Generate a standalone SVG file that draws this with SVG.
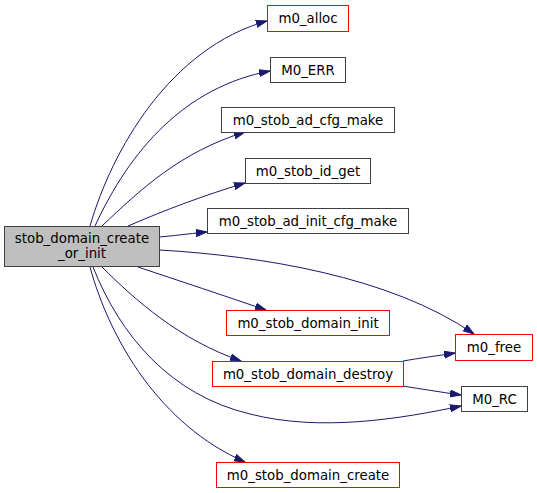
<svg xmlns="http://www.w3.org/2000/svg" width="537" height="493" viewBox="0 0 537 493">
<style>
text{font-family:"DejaVu Sans","Liberation Sans",sans-serif;font-size:13.33px;text-anchor:middle;fill:#000}
.n{fill:#fff;stroke:#404040;stroke-width:1}
.r{fill:#fff;stroke:#ff0000;stroke-width:1}
.m{fill:#bfbfbf;stroke:#404040;stroke-width:1}
.e{fill:none;stroke:#191970;stroke-width:1;marker-end:url(#ah)}
</style>
<defs>
<marker id="ah" markerUnits="userSpaceOnUse" markerWidth="12" markerHeight="10" refX="11" refY="4" orient="auto">
<polygon points="0,0.5 11,4 0,7.5" fill="#191970" stroke="#191970"/>
</marker>
</defs>
<rect width="537" height="493" fill="#fff"/>
<g id="edges">
<path class="e" d="M90,226 C112,150 170,48 267,21"/>
<path class="e" d="M95,226 C130,150 185,87 270,71"/>
<path class="e" d="M102,226 C140,190 180,152 245,132"/>
<path class="e" d="M128,226 C165,210 205,195 245,183"/>
<path class="e" d="M159,237 C172,236 186,234 207,232"/>
<path class="e" d="M160,250 C260,256 390,276 474,334"/>
<path class="e" d="M138,267 C180,281 225,296 266,310"/>
<path class="e" d="M102,267 C135,300 180,340 241,361"/>
<path class="e" d="M93,267 C120,335 170,395 250,414 C320,432 400,419 461,406"/>
<path class="e" d="M90,267 C110,340 160,425 245,462"/>
<path class="e" d="M403,361 C420,358 436,356 455,353"/>
<path class="e" d="M402,386 C422,389 440,392 461,395"/>
</g>
<g id="stob_domain_create_or_init">
<rect class="m" x="4.5" y="226.5" width="155" height="40"/>
<text x="82" y="243">stob_domain_create</text>
<text x="82" y="258">_or_init</text>
</g>
<g id="m0_alloc">
<rect class="r" x="267.5" y="5.5" width="81" height="26"/>
<text x="308" y="23">m0_alloc</text>
</g>
<g id="M0_ERR">
<rect class="n" x="270.5" y="57.5" width="75" height="25"/>
<text x="308" y="74.5">M0_ERR</text>
</g>
<g id="m0_stob_ad_cfg_make">
<rect class="n" x="221.5" y="107.5" width="173" height="25"/>
<text x="308" y="124.5">m0_stob_ad_cfg_make</text>
</g>
<g id="m0_stob_id_get">
<rect class="n" x="245.5" y="158.5" width="125" height="25"/>
<text x="308" y="175.5">m0_stob_id_get</text>
</g>
<g id="m0_stob_ad_init_cfg_make">
<rect class="n" x="207.5" y="208.5" width="201" height="25"/>
<text x="308" y="225.5">m0_stob_ad_init_cfg_make</text>
</g>
<g id="m0_stob_domain_init">
<rect class="r" x="226.5" y="310.5" width="163" height="25"/>
<text x="308" y="327.5">m0_stob_domain_init</text>
</g>
<g id="m0_free">
<rect class="r" x="455.5" y="334.5" width="77" height="26"/>
<text x="494" y="352">m0_free</text>
</g>
<g id="m0_stob_domain_destroy">
<rect class="r" x="212.5" y="361.5" width="191" height="25"/>
<text x="308" y="378.5">m0_stob_domain_destroy</text>
</g>
<g id="M0_RC">
<rect class="n" x="461.5" y="386.5" width="66" height="25"/>
<text x="494.5" y="403.5">M0_RC</text>
</g>
<g id="m0_stob_domain_create">
<rect class="r" x="216.5" y="462.5" width="183" height="25"/>
<text x="308" y="479.5">m0_stob_domain_create</text>
</g>
</svg>
